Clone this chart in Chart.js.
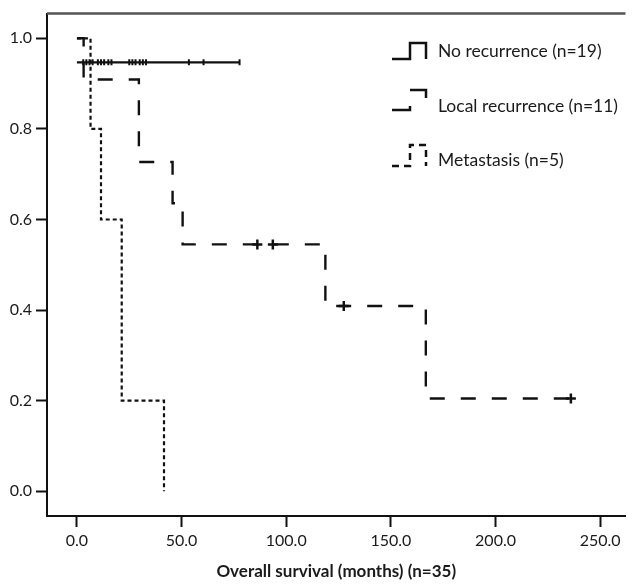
<!DOCTYPE html>
<html lang="en">
<head>
  <meta charset="UTF-8">
  <title>Overall survival</title>
  <script src="https://cdn.jsdelivr.net/npm/chart.js"></script>
  <style>
    body { margin: 0; background: #fff; }
    canvas { display: block; }
  </style>
</head>
<body>
  <canvas id="kmChart" width="633" height="586"></canvas>

  <script>
    // Kaplan-Meier steps (months, cumulative survival)
    const groupLabels = ['No recurrence (n=19)', 'Local recurrence (n=11)', 'Metastasis (n=5)'];

    const noRecTimes = [0, 77.7];
    const noRecSurv = [0.947, 0.947];
    const noRecCensored = [3, 4.5, 6, 7.5, 10, 11.5, 13, 15, 16.5, 25, 26.5, 28, 30, 31.5, 33, 53.5, 60.5, 77.7];

    const localTimes = [0, 3.2, 29.6, 45.7, 50.5, 118.7, 166.7, 236];
    const localSurv = [1.0, 0.909, 0.727, 0.636, 0.545, 0.409, 0.205, 0.205];
    const localCensored = [86.2, 93.6, 127.5, 236];

    const metaTimes = [0, 6.5, 11.5, 21.4, 41.6];
    const metaSurv = [1.0, 0.8, 0.6, 0.2, 0.0];

    const xTicks = [0, 50, 100, 150, 200, 250];
    const yTicks = [0, 0.2, 0.4, 0.6, 0.8, 1.0];

    const ink = '#111';

    const toPoints = (times, surv) => times.map((t, i) => ({ x: t, y: surv[i] }));

    // survival value of a step curve at time t (for censor marks)
    const survAt = (times, surv, t) => {
      let s = surv[0];
      for (let i = 0; i < times.length; i++) {
        if (times[i] <= t) s = surv[i];
      }
      return s;
    };

    const censorPoints = (times, surv, cens) => cens.map(t => ({ x: t, y: survAt(times, surv, t) }));

    // draws the top frame line and the step-shaped legend inside the plot
    const framePlugin = {
      id: 'frameAndLegend',
      afterDraw(chart) {
        const ctx = chart.ctx;
        const area = chart.chartArea;
        ctx.save();
        ctx.strokeStyle = '#555';
        ctx.lineWidth = 2.5;
        ctx.beginPath();
        ctx.moveTo(area.left, area.top);
        ctx.lineTo(area.right, area.top);
        ctx.stroke();

        const glyphDash = [[], [22, 16, 24, 100], [7, 5]];
        const rows = [51, 106, 160];
        ctx.strokeStyle = ink;
        ctx.lineWidth = 2.5;
        rows.forEach((cy, i) => {
          const top = i === 0 ? cy - 8 : (i === 1 ? cy - 16 : cy - 15);
          const bot = i === 0 ? cy + 8 : (i === 1 ? cy + 4 : cy + 6);
          ctx.setLineDash(glyphDash[i]);
          ctx.beginPath();
          ctx.moveTo(392, bot);
          ctx.lineTo(410, bot);
          ctx.lineTo(410, top);
          ctx.lineTo(426, top);
          ctx.lineTo(426, bot);
          ctx.stroke();
          ctx.setLineDash([]);
          ctx.fillStyle = '#1a1a1a';
          ctx.font = '17.5px Lato';
          ctx.textBaseline = 'middle';
          ctx.textAlign = 'left';
          ctx.fillText(groupLabels[i], 438, cy);
        });
        ctx.restore();
      }
    };

    const ctx = document.getElementById('kmChart').getContext('2d');
    new Chart(ctx, {
      type: 'line',
      data: {
        datasets: [
          {
            label: groupLabels[0],
            data: toPoints(noRecTimes, noRecSurv),
            stepped: true,
            borderColor: ink,
            borderWidth: 2.2,
            pointRadius: 0
          },
          {
            label: groupLabels[1],
            data: toPoints(localTimes, localSurv),
            stepped: true,
            borderColor: ink,
            borderWidth: 2.4,
            borderDash: [15, 16],
            pointRadius: 0
          },
          {
            label: groupLabels[2],
            data: toPoints(metaTimes, metaSurv),
            stepped: true,
            borderColor: ink,
            borderWidth: 2.2,
            borderDash: [4, 3],
            pointRadius: 0
          },
          {
            label: 'censored (no recurrence)',
            type: 'scatter',
            data: censorPoints(noRecTimes, noRecSurv, noRecCensored),
            pointStyle: 'line',
            rotation: 90,
            pointRadius: 3,
            borderColor: ink,
            borderWidth: 2,
            showLine: false
          },
          {
            label: 'censored (local)',
            type: 'scatter',
            data: censorPoints(localTimes, localSurv, localCensored),
            pointStyle: 'cross',
            pointRadius: 5,
            borderColor: ink,
            borderWidth: 2.5,
            showLine: false
          }
        ]
      },
      options: {
        responsive: false,
        animation: false,
        layout: { padding: { top: 13, right: 0, left: 0, bottom: 0 } },
        plugins: {
          legend: { display: false },
          tooltip: { enabled: false }
        },
        scales: {
          x: {
            type: 'linear',
            min: -14.3,
            max: 262.1,
            afterBuildTicks: (scale) => { scale.ticks = xTicks.map(v => ({ value: v })); },
            afterFit: (scale) => { scale.height = 70; },
            grid: { drawOnChartArea: false, drawTicks: true, tickLength: 11, tickWidth: 2, tickColor: ink },
            border: { display: true, color: ink, width: 2 },
            ticks: {
              color: '#1a1a1a',
              font: { family: 'Lato', size: 16 },
              padding: 4,
              maxRotation: 0,
              callback: (v) => v.toFixed(1)
            },
            title: {
              display: true,
              text: 'Overall survival (months) (n=35)',
              color: '#1a1a1a',
              font: { family: 'Lato', size: 17, weight: 'bold' },
              padding: { top: 0, bottom: 4 }
            }
          },
          y: {
            type: 'linear',
            min: -0.0545,
            max: 1.0545,
            afterBuildTicks: (scale) => { scale.ticks = yTicks.map(v => ({ value: v })); },
            afterFit: (scale) => { scale.width = 47; },
            grid: { drawOnChartArea: false, drawTicks: true, tickLength: 11, tickWidth: 2, tickColor: ink },
            border: { display: true, color: ink, width: 2 },
            ticks: {
              color: '#1a1a1a',
              font: { family: 'Lato', size: 16 },
              padding: 4,
              callback: (v) => v.toFixed(1)
            }
          }
        }
      },
      plugins: [framePlugin]
    });
  </script>
</body>
</html>
